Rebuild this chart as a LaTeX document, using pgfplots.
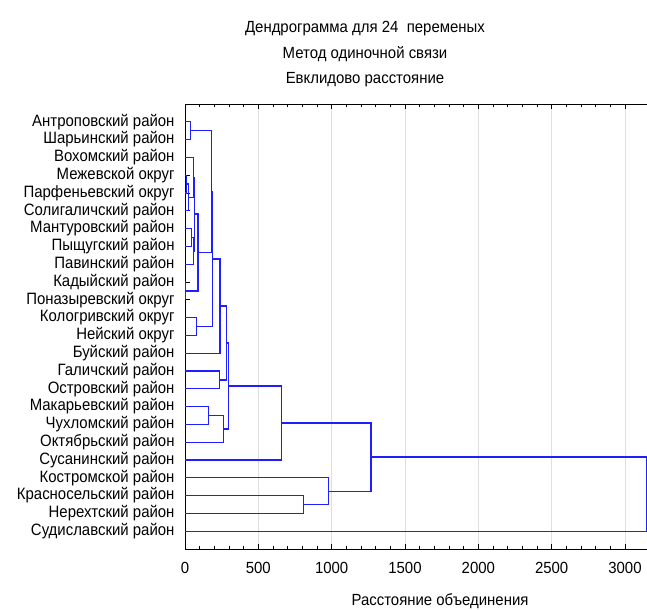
\documentclass[border=0pt]{standalone}
\usepackage{pgfplots}
\pgfplotsset{compat=1.18}
\usepackage{fontspec}
\setmainfont{Liberation Sans}
\definecolor{dblue}{RGB}{30,30,255}
\tikzset{dl/.style={dblue, line width=1.3bp, mark=none}}
\begin{document}
\begin{tikzpicture}
\useasboundingbox (-185bp,-61bp) rectangle (462bp,549bp);
\begin{axis}[
  scale only axis,
  width=462bp, height=445bp,
  xmin=0, xmax=3150,
  ymin=0, ymax=25,
  y dir=reverse,
  axis line style={black, line width=0.9bp},
  tick align=inside,
  xtick pos=both, ytick pos=left,
  xtick={0,500,1000,1500,2000,2500,3000},
  minor x tick num=4,
  major tick length=5bp, minor tick length=3bp,
  every tick/.style={black, line width=0.8bp},
  xmajorgrids,
  major grid style={gray!25, line width=0.9bp},
  ytick={1,...,24},
  yticklabels={Антроповский район, Шарьинский район, Вохомский район, Межевской округ, Парфеньевский округ, Солигаличский район, Мантуровский район, Пыщугский район, Павинский район, Кадыйский район, Поназыревский округ, Кологривский округ, Нейский округ, Буйский район, Галичский район, Островский район, Макарьевский район, Чухломский район, Октябрьский район, Сусанинский район, Костромской район, Красносельский район, Нерехтский район, Судиславский район},
  /pgf/number format/assume math mode=true,
  xticklabel style={font=\fontsize{15}{15}\selectfont, yshift=-9bp, yscale=1.08},
  yticklabel style={font=\fontsize{15}{15}\selectfont, xshift=-7bp, yscale=1.1},
  scaled x ticks=false,
  /pgf/number format/1000 sep={},
  clip=false,
]
\addplot[dl] coordinates {(0,1)(36,1)(36,2)(0,2)};
\addplot[dl] coordinates {(0,4)(8,4)(8,5)(0,5)};
\addplot[dl] coordinates {(8,4.5)(22,4.5)(22,6)(0,6)};
\addplot[dl] coordinates {(0,3)(59,3)(59,5.25)(22,5.25)};
\addplot[dl] coordinates {(0,7)(43,7)(43,8)(0,8)};
\addplot[dl] coordinates {(43,7.5)(59,7.5)(59,9)(0,9)};
\addplot[dl] coordinates {(59,4.125)(66,4.125)(66,8.25)(59,8.25)};
\addplot[dl] coordinates {(0,10)(3,10)(3,11)(0,11)};
\addplot[dl] coordinates {(66,6.1875)(89,6.1875)(89,10.5)(3,10.5)};
\addplot[dl] coordinates {(36,1.5)(181,1.5)(181,8.34375)(89,8.34375)};
\addplot[dl] coordinates {(0,12)(80,12)(80,13)(0,13)};
\addplot[dl] coordinates {(181,4.921875)(189,4.921875)(189,12.5)(80,12.5)};
\addplot[dl] coordinates {(189,8.7109375)(239,8.7109375)(239,14)(0,14)};
\addplot[dl] coordinates {(0,15)(237,15)(237,16)(0,16)};
\addplot[dl] coordinates {(239,11.35546875)(284,11.35546875)(284,15.5)(237,15.5)};
\addplot[dl] coordinates {(0,17)(159,17)(159,18)(0,18)};
\addplot[dl] coordinates {(159,17.5)(261,17.5)(261,19)(0,19)};
\addplot[dl] coordinates {(284,13.427734375)(295,13.427734375)(295,18.25)(261,18.25)};
\addplot[dl] coordinates {(295,15.8388671875)(660,15.8388671875)(660,20)(0,20)};
\addplot[dl] coordinates {(0,22)(807,22)(807,23)(0,23)};
\addplot[dl] coordinates {(0,21)(980,21)(980,22.5)(807,22.5)};
\addplot[dl] coordinates {(660,17.91943359375)(1269,17.91943359375)(1269,21.75)(980,21.75)};
\addplot[dl] coordinates {(1269,19.834716796875)(3145,19.834716796875)(3145,24)(0,24)};
\end{axis}
\node[font=\fontsize{15}{15}\selectfont, yscale=1.08] at (180bp,520bp) {Дендрограмма для 24\ \ переменых};
\node[font=\fontsize{15}{15}\selectfont, yscale=1.08] at (180bp,495bp) {Метод одиночной связи};
\node[font=\fontsize{15}{15}\selectfont, yscale=1.08] at (180bp,469bp) {Евклидово расстояние};
\node[font=\fontsize{15}{15}\selectfont, yscale=1.08] at (255bp,-52bp) {Расстояние объединения};
\end{tikzpicture}
\end{document}
